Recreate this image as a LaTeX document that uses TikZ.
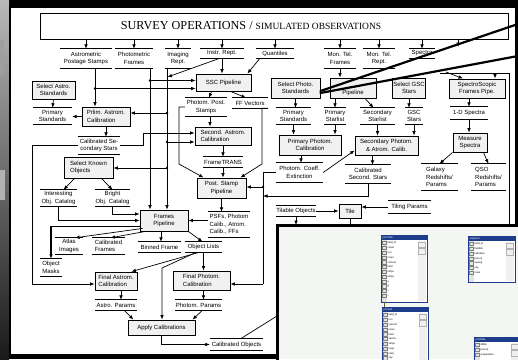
\documentclass[tikz,border=0pt]{standalone}
\usepackage{fontspec}
\setmainfont{Liberation Serif}
\setsansfont{Liberation Sans}
\usetikzlibrary{arrows.meta,calc}
\definecolor{boxgray}{HTML}{F1F1F1}
\definecolor{winblue}{HTML}{1E3C8C}
\definecolor{insetbg}{HTML}{F3F6F3}
\newcommand\dstore[7][]{%
  \node[storetext,#1,minimum width=#5pt,minimum height=#6pt] (#2) at (#3,#4) {#7};
  \draw[storeline] (#2.north west) -- (#2.north east) (#2.south west) -- (#2.south east);}
\newcommand\twin[6]{%
  \fill[white] (#1,#2) rectangle ++(#3,#4);
  \fill[winblue] (#1,#2) rectangle ++(#3,5);
  \fill[gray!22] ($(#1,#2)+(1,5)$) rectangle ($(#1,#2)+(5.5,#4)$);
  \fill[gray!12] ($(#1,#2)+(#3-9,6)$) rectangle ($(#1,#2)+(#3-1.5,#4-1)$);
  \draw[gray!60,line width=0.3pt] ($(#1,#2)+(#3-8.5,7)$) rectangle ++(6.5,5);
  \draw[gray!60,line width=0.3pt] ($(#1,#2)+(#3-8.5,13)$) rectangle ++(6.5,6);
  \draw[winblue,line width=0.9pt] (#1,#2) rectangle ++(#3,#4);
  \node[anchor=west,inner sep=0,font=\sffamily\fontsize{2.6}{3}\selectfont,text=white] at ($(#1,#2)+(1.5,2.5)$) {#5};
  \foreach \f [count=\i] in {#6} {
    \draw[gray,line width=0.3pt] ($(#1,#2)+(1.5,1.6+\i*4.8)$) rectangle ++(3.2,3.2);
    \node[anchor=west,inner sep=0,font=\sffamily\fontsize{2.6}{3}\selectfont] at ($(#1,#2)+(6.5,3.2+\i*4.8)$) {\f};
  }}
\begin{document}
\begin{tikzpicture}[x=1pt,y=-1pt,
  every node/.style={font=\sffamily\fontsize{6}{7.6}\selectfont,text=black},
  proc/.style={draw=black,fill=boxgray,line width=0.8pt,inner sep=0.5pt,align=center},
  procl/.style={proc,align=left},
  storetext/.style={inner sep=0.3pt,align=center},
  storeline/.style={line width=0.8pt},
  arr/.style={line width=0.7pt,-{Latex[length=4.5pt,width=3.6pt]}},
  ln/.style={line width=0.7pt},
  jdot/.style={circle,fill=black,inner sep=0pt,minimum size=2.6pt},
  callout/.style={line width=2.2pt,line cap=round}]
\useasboundingbox (0,0) rectangle (518,359);
% background photo and slide
\fill[black] (0,0) rectangle (518,359);
\shade[top color=gray!55,bottom color=black!90] (0,0) rectangle (9,359);
\fill[gray!75] (0,40) rectangle (4,75);
\fill[gray!60] (0,170) rectangle (5,200);
\fill[white] (10,7) rectangle (516,355);
\draw[line width=2pt] (10,7) rectangle (516,355);
% title
\node[draw,line width=0.9pt,fill=white,minimum width=468pt,minimum height=26pt,inner sep=0] (top) at (274,26) {};
\node[font=\rmfamily\fontsize{12.2}{14}\selectfont] (ttl) at (251,26) {SURVEY OPERATIONS / {\fontsize{9.5}{12}\selectfont SIMULATED OBSERVATIONS}};
% top data stores
\dstore{ast}{86}{58.5}{52}{19}{Astrometric\\Postage Stamps}
\dstore{phf}{134}{58.5}{38}{19}{Photometric\\Frames}
\dstore{imr}{178}{58.5}{26}{19}{Imaging\\Rept.}
\dstore{inr}{222}{53.5}{44}{9}{Instr. Rept.}
\dstore{qua}{275}{53.5}{38}{9}{Quantiles}
\dstore{mtf}{340}{58.5}{32}{19}{Mon. Tel.\\Frames}
\dstore{mtr}{379}{58.5}{32}{19}{Mon. Tel.\\Rept.}
\dstore{spc}{422}{53.5}{26}{9}{Spectra}
\coordinate (hid) at (458,47);
\foreach \n in {ast,phf,imr,inr,qua,mtf,mtr,spc} \draw[arr] (\n.north |- top.south) -- (\n.north);
\draw[arr] (hid |- top.south) -- (hid);
% row 2 processes
\node[proc,minimum width=43pt,minimum height=18pt] (sas) at (53.5,90) {Select Astro.\\Standards};
\node[proc,minimum width=55pt,minimum height=17pt] (ssc) at (223.5,82.5) {SSC Pipeline};
\node[proc,minimum width=49pt,minimum height=20pt] (spo) at (295.5,88) {Select Photo.\\Standards};
\node[proc,minimum width=46pt,minimum height=20pt] (mtp) at (353,88) {};
\node[inner sep=0] (mtpt) at ([yshift=-4.5pt]mtp.center) {Pipeline};
\node[proc,minimum width=33pt,minimum height=20pt] (sgs) at (409,88) {Select GSC\\Stars};
\node[proc,minimum width=56pt,minimum height=19pt] (sfp) at (477,88.5) {SpectroScopic\\Frames Pipe.};
% row 3 stores
\dstore{pst}{52.5}{116}{39}{16}{Primary\\Standards}
\dstore{prs}{293.5}{116}{35}{16}{Primary\\Standards}
\dstore{psl}{335}{116}{22}{16}{Primary\\Starlist}
\dstore{ssl}{377.5}{116}{35}{16}{Secondary\\Starlist}
\dstore{gsc}{414}{116}{18}{16}{GSC\\Stars}
\dstore{ods}{469}{113}{37}{12}{1-D Spectra}
\dstore{pps}{206}{107}{42}{18}{Photom. Post.\\Stamps}
\dstore{ffv}{250}{103}{36}{10}{FF Vectors}
% processes
\node[procl,minimum width=48pt,minimum height=19pt] (prl) at (106,116.5) {Prlim. Astrom.\\Calibration};
\node[procl,minimum width=56pt,minimum height=18pt] (sas2) at (223,136) {Second. Astrom.\\Calibration};
\node[proc,minimum width=62pt,minimum height=20pt] (ppc) at (310,145) {Primary Photom.\\Calibration};
\node[proc,minimum width=63pt,minimum height=19pt] (sph) at (386.5,145.5) {Secondary Photom.\\\& Atrom. Calib.};
\node[proc,minimum width=34pt,minimum height=19pt] (msp) at (470,142.5) {Measure\\Spectra};
\dstore{csc}{99}{145.5}{42}{17}{Calibrated Se-\\condary Stars}
\dstore{pce}{299.5}{172.5}{47}{19}{Photom. Coeff.\\Extinction}
\dstore{cs2}{368}{174}{46}{18}{Calibrated\\Second. Stars}
\dstore[align=left]{gal}{439.5}{177}{37}{26}{Galaxy\\Redshifts/\\Params}
\dstore[align=left]{qso}{488.5}{177}{35}{26}{QSO\\Redshifts/\\Params}
\dstore{ftr}{223}{162}{40}{10}{FrameTRANS}
\node[procl,minimum width=49pt,minimum height=21pt] (sko) at (88.5,167.5) {Select Known\\Objects};
\node[proc,minimum width=49pt,minimum height=20pt] (pstp) at (221.5,188) {Post. Stamp\\Pipeline};
\dstore{ioc}{58.5}{198}{37}{16}{Interesting\\Obj. Catalog}
\dstore{boc}{112.5}{198}{35}{16}{Bright\\Obj. Catalog}
\node[proc,minimum width=48pt,minimum height=21pt] (frm) at (164,220.5) {Frames\\Pipeline};
\dstore[align=left]{psf}{229}{224.5}{42}{25}{PSFs, Photom\\Calib., Atrom.\\Calib., FFs}
\dstore{tlo}{296}{211}{40}{10}{Tilable Objects}
\node[proc,minimum width=22pt,minimum height=14pt] (tile) at (350,211) {Tile};
\dstore{tpa}{409.5}{207}{43}{12}{Tiling Params}
\dstore{atl}{69}{246}{28}{16}{Atlas\\Images}
\dstore[align=left]{cfr}{108.5}{246}{33}{16}{Calibrated\\Frames}
\dstore{bfr}{159.5}{247}{43}{10}{Binned Frame}
\dstore{obl}{203.5}{247}{37}{10}{Object Lists}
\dstore[align=left]{omk}{51}{267.5}{22}{17}{Object\\Masks}
\node[procl,minimum width=42pt,minimum height=18pt] (fas) at (116,281) {Final Astrom.\\Calibration};
\node[procl,minimum width=57pt,minimum height=19pt] (fph) at (201.5,280.5) {Final Photom.\\Calibration};
\dstore{apa}{116}{305}{42}{10}{Astro. Params}
\dstore{php}{198.5}{305}{47}{10}{Photom. Params}
\node[proc,minimum width=67pt,minimum height=15pt] (apc) at (161.5,327.5) {Apply Calibrations};
\dstore{cob}{236.5}{344.5}{53}{11}{Calibrated Objects}
% connectors, left part
\draw[arr] (sas.south) -- (pst.north);
\draw[arr] (prl.west) -- (prl.west -| pst.east);
\coordinate (jA) at (95,88.5);
\draw[ln] (jA |- ast.south) -- (jA);
\draw[arr] (jA) -- (jA |- prl.north);
\draw[arr] (jA) -- (jA -| ssc.west);
\coordinate (jB) at (150,80.5);
\draw[arr] (jB |- phf.south) -- (jB |- frm.north);
\draw[arr] (jB) -- (jB -| ssc.west);
\coordinate (jC) at (167,113);
\coordinate (jD) at (167,142);
\coordinate (jE) at (167,168);
\draw[arr] (jC |- imr.south) -- (jC |- frm.north);
\draw[arr] (jC) -- (jC -| prl.east);
\draw[arr] (jD) -- (jD -| sas2.west);
\draw[arr] (jE) -- (jE -| sko.east);
\foreach \c in {jA,jB,jC,jD,jE} \node[jdot] at (\c) {};
\coordinate (jI) at (167.5,77);
\draw[arr] ([xshift=-2pt]inr.south) -- (jI);
\draw[arr] (inr.south) -- (inr.south |- ssc.north);
\draw[arr] ([xshift=-15pt]qua.south) -- ([xshift=-4pt]ssc.north east);
\draw[arr] ([xshift=-12pt]ssc.south) -- ([xshift=3pt]pps.north);
\draw[arr] ([xshift=7pt]ssc.south) -- ([xshift=-4pt]ffv.north);
\draw[arr] ([xshift=4pt]pps.south) -- ([xshift=4pt]pps.south |- sas2.north);
\coordinate (k1) at (143,133);
\draw[arr] (csc.east) -| (k1) -- (k1 -| sas2.west);
\coordinate (k2) at (32,284);
\draw[arr] (csc.west) -| (k2) -- (k2 -| fas.west);
\draw[arr] (prl.south) -- (prl.south |- csc.north);
\draw[arr] (sas2.south) -- (ftr.north);
\draw[arr] (ftr.south) -- (ftr.south |- pstp.north);
\coordinate (p1) at (179,164);
\draw[arr] (pps.west) -| (p1) -- ([xshift=7pt]pstp.north west);
\coordinate (p2) at (262,164);
\draw[arr] (ffv.south east) -| (p2) -- ([xshift=-6pt]pstp.north east);
\draw[arr] (pstp.south) -- (pstp.south |- psf.north);
\draw[arr] ([yshift=4pt]psf.west) -- ([yshift=4pt]psf.west -| frm.east);
% right middle
\coordinate (q1) at (263,187);
\coordinate (q2) at (263,284);
\coordinate (q3) at (263,196);
\draw[ln] (pce.west) -| (q2);
\draw[arr] (q2) -- (q2 -| fph.east);
\draw[arr] (q1) -- (q1 -| pstp.east);
\node[jdot] at (q1) {};
\draw[arr] (cs2.south) |- (q3);
\draw[arr] (pce.east) -- ([yshift=5pt]sph.south west);
\draw[arr] ([xshift=-9pt]ppc.south) -- ([xshift=-9pt]ppc.south |- pce.north);
\draw[arr] (prs.south) -- (prs.south |- ppc.north);
\draw[arr] (psl.south) -- (psl.south |- ppc.north);
\draw[arr] (ssl.south) -- (ssl.south |- sph.north);
\draw[arr] (gsc.south) -- (gsc.south |- sph.north);
\draw[arr] ([xshift=-14pt]sph.south) -- ([xshift=-14pt]sph.south |- cs2.north);
\draw[arr] (spo.south) -- (spo.south |- prs.north);
\draw[arr] (psl.north |- mtp.south) -- (psl.north);
\draw[arr] ([xshift=12pt]mtp.south) -- ([xshift=-4pt]ssl.north);
\draw[arr] (mtf.south) -- (mtf.south |- mtp.north);
\draw[arr] (sgs.south) -- (sgs.south |- gsc.north);
\draw[arr] (ods.north |- sfp.south) -- (ods.north);
\draw[arr] (ods.south) -- (ods.south |- msp.north);
\draw[arr] (msp.south west) -- (gal.north);
\draw[arr] ([xshift=-4pt]msp.south east) -- (qso.north);
\coordinate (g0) at (446,72);
\coordinate (g1) at (495,73);
\draw[line width=0.6pt] (440,73) -- (509,73) -- (509,225);
\draw[arr] (g0) -- ([xshift=-14pt]sfp.north);
\draw[arr] (g1) -- (g1 |- sfp.north);
% tiles
\coordinate (it) at (350,225);
\draw[arr] (tlo.east) -- (tile.west);
\draw[arr] (tpa.west) -- (tpa.west -| tile.east);
\draw[ln] (tile.south) -- (tile.south |- it);
\draw[arr] (tlo.south) -- (tlo.south |- it);
% frames area
\draw[arr] ([xshift=-14pt]sko.south) -- ([xshift=5pt]ioc.north);
\draw[arr] ([xshift=13pt]sko.south) -- (boc.north);
\draw[arr] (ioc.south) |- (frm.west);
\draw[arr] (boc.south) |- ([yshift=6.5pt]frm.west);
\draw[arr] ([xshift=3pt,yshift=3pt]frm.south west) -- ([xshift=6pt]atl.north);
\draw[arr] ([xshift=6pt]frm.south west) -- ([xshift=2pt]cfr.north);
\draw[arr] ([xshift=-3pt]frm.south) -- ([xshift=-3pt]frm.south |- bfr.north);
\draw[arr] (frm.south east) -- ([xshift=-1pt]obl.north);
\draw[arr,line width=1.3pt] ([yshift=-6pt]frm.west) -| (omk.north);
% object lists and calibrations
\coordinate (o1) at (162,268);
\draw[arr] ([xshift=-4pt]obl.south) -- ([xshift=-6pt]fas.north east);
\draw[arr] (obl.south) -- (obl.south |- fph.north);
\draw[arr] ([xshift=-7pt]obl.south) -- (o1) -- (o1 |- apc.north);
\draw[arr] ([xshift=5pt]fas.south) -- ([xshift=5pt]fas.south |- apa.north);
\draw[arr] ([xshift=2pt]fph.south) -- ([xshift=2pt]fph.south |- php.north);
\draw[arr] ([xshift=8pt]apa.south) -- ([xshift=-28pt]apc.north);
\draw[arr] ([xshift=4pt]php.south) -- ([xshift=31pt]apc.north);
\draw[arr] (apc.south) |- (cob.west);
\coordinate (ic) at (277,316);
\draw[ln] ([xshift=4pt]cob.north) -- (ic);
% callout lines
\coordinate (c1) at (518,24);
\coordinate (c2) at (518,56);
\draw[callout] ([yshift=-3pt]spo.east) -- (c1);
\draw[callout] ([yshift=-5pt]spo.east) -- (c2);
% inset screenshot
\begin{scope}
\clip (277,225) rectangle (518,359);
\fill[insetbg] (277,225) rectangle (518,359);
\twin{381}{235}{46}{67}{pcProfile}{field\_id,count,run,rerun,camcol,field,strips,stripe,u,g,r,i}
\twin{468}{236}{47}{46}{segment}{field\_id,fieldIdx,tabname,[rerun],seeing,sky,rows}
\twin{382}{307}{46}{60}{pcField}{field\_id,run,camcol,rerun,field,skcols,stripe,rows,nobj,sky}
\twin{474}{337}{46}{30}{pcDBfile}{dbfile,[rerun],preparation}
\draw[olive!60!black,line width=0.8pt] (384,302) -- (384,307);
\end{scope}
\draw[line width=3pt] (277,361) -- (277,225) -- (520,225);
\end{tikzpicture}
\end{document}
